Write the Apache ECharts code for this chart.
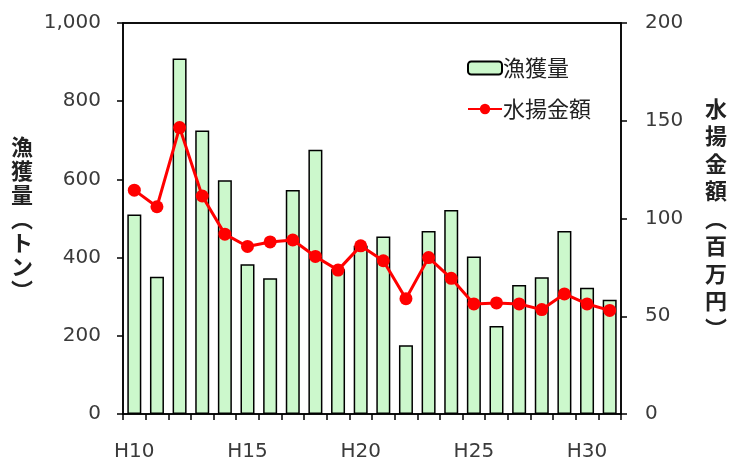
<!DOCTYPE html>
<html>
<head>
<meta charset="utf-8">
<script src="https://cdn.jsdelivr.net/npm/echarts@6/dist/echarts.min.js"></script>
<style>
  html, body { margin: 0; padding: 0; background: #fff; }
  #chart { width: 730px; height: 462px; }
</style>
</head>
<body>
<div id="chart"></div>
<script>
// Fiscal years (Heisei)
const years = ['H10','H11','H12','H13','H14','H15','H16','H17','H18','H19','H20',
               'H21','H22','H23','H24','H25','H26','H27','H28','H29','H30','H31'];
// Catch volume (tonnes)
const catchTons = [510, 351, 909, 725, 598, 383, 347, 573, 676, 370, 430,
                   454, 176, 468, 522, 403, 225, 330, 350, 468, 323, 292];
// Landing value (million yen)
const landingValue = [114.5, 106, 146.5, 111.5, 92, 85.7, 88, 89, 80.6, 73.6, 86,
                      78.4, 59, 80, 69.4, 56.3, 56.8, 56.3, 53.4, 61.4, 56.3, 53];
// Axis tick settings
const leftAxisMax = 1000, leftAxisStep = 200;
const rightAxisMax = 200, rightAxisStep = 50;

const numFont = 'DejaVu Sans';
const cjkFont = 'Noto Sans CJK JP';
const textColor = '#3a3a3a';

const chart = echarts.init(document.getElementById('chart'), null, { renderer: 'canvas' });

const axisLineStyle = { color: '#000', width: 1.5 };

// Only the split line at the axis maximum is visible: it closes the plot frame on top
const leftTickCount = leftAxisMax / leftAxisStep + 1;
const frameLineColors = Array.from({ length: leftTickCount }, (_, i) =>
  i === leftTickCount - 1 ? '#000' : 'rgba(0,0,0,0)');

chart.setOption({
  animation: false,
  backgroundColor: '#fff',
  grid: {
    left: 123, right: 101, top: 23, bottom: 46,
    show: true, borderWidth: 1.5, borderColor: '#000', backgroundColor: 'rgba(0,0,0,0)'
  },
  legend: {
    orient: 'vertical',
    left: 462, top: 52,
    itemWidth: 34, itemHeight: 13, itemGap: 19,
    textStyle: { fontFamily: cjkFont, fontSize: 22, color: '#222', padding: [0, 0, 0, -4] },
    data: [
      { name: '漁獲量' },
      { name: '水揚金額', itemStyle: { color: '#ff0000' } }
    ]
  },
  xAxis: {
    type: 'category',
    data: years,
    boundaryGap: true,
    axisLine: { lineStyle: axisLineStyle },
    axisTick: { show: true, length: 6, interval: 0, lineStyle: axisLineStyle },
    axisLabel: { interval: 4, margin: 28, fontFamily: numFont, fontSize: 20, color: textColor }
  },
  yAxis: [
    {
      type: 'value', min: 0, max: leftAxisMax, interval: leftAxisStep,
      position: 'left',
      name: '漁\n獲\n量\n︵\nト\nン\n︶',
      nameLocation: 'middle', nameRotate: 0, nameGap: 90,
      nameTextStyle: {
        fontFamily: cjkFont, fontSize: 22, fontWeight: 'bold', color: '#222',
        lineHeight: 24, padding: [16, 0, 0, 0]
      },
      axisLine: { show: true, lineStyle: axisLineStyle },
      axisTick: { show: true, length: 6, lineStyle: axisLineStyle },
      splitLine: { show: true, lineStyle: { color: frameLineColors, width: 1.5, type: 'solid' } },
      axisLabel: {
        margin: 22, fontFamily: numFont, fontSize: 20, color: textColor,
        formatter: v => v.toLocaleString('en-US')
      }
    },
    {
      type: 'value', min: 0, max: rightAxisMax, interval: rightAxisStep,
      position: 'right',
      name: '水\n揚\n金\n額\n︵\n百\n万\n円\n︶',
      nameLocation: 'middle', nameRotate: 0, nameGap: 84,
      nameTextStyle: {
        fontFamily: cjkFont, fontSize: 22, fontWeight: 'bold', color: '#222',
        lineHeight: 27.5, padding: [0, 0, 28, 0]
      },
      axisLine: { show: true, lineStyle: axisLineStyle },
      axisTick: { show: true, length: 6, lineStyle: axisLineStyle },
      splitLine: { show: false },
      axisLabel: { margin: 24, fontFamily: numFont, fontSize: 20, color: textColor }
    }
  ],
  series: [
    {
      name: '漁獲量',
      type: 'bar',
      yAxisIndex: 0,
      data: catchTons,
      barWidth: 14,
      itemStyle: { color: '#ccf8cc', borderColor: '#000', borderWidth: 1.5 }
    },
    {
      name: '水揚金額',
      type: 'line',
      yAxisIndex: 1,
      data: landingValue,
      symbol: 'circle',
      symbolSize: 13,
      lineStyle: { color: '#ff0000', width: 3 },
      itemStyle: { color: '#ff0000' }
    }
  ]
});
</script>
</body>
</html>
